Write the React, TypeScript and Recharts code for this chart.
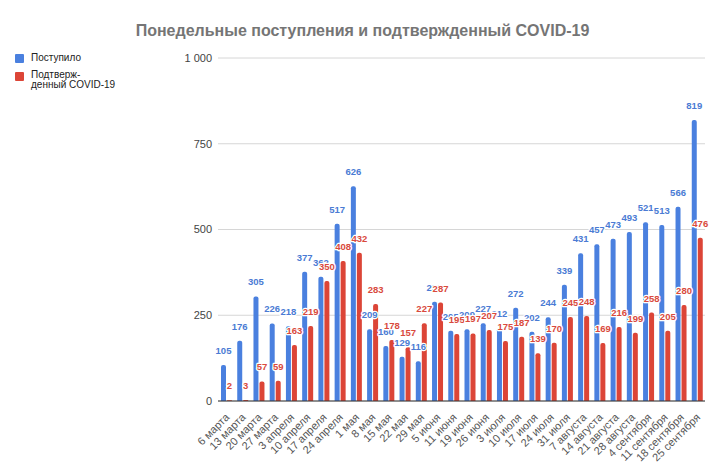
import { Bar, BarChart, CartesianGrid, LabelList, XAxis, YAxis } from "recharts";

const categories = [
  "6 марта", "13 марта", "20 марта", "27 марта", "3 апреля", "10 апреля",
  "17 апреля", "24 апреля", "1 мая", "8 мая", "15 мая", "22 мая", "29 мая",
  "5 июня", "11 июня", "19 июня", "26 июня", "3 июля", "10 июля", "17 июля",
  "24 июля", "31 июля", "7 августа", "14 августа", "21 августа", "28 августа",
  "4 сентября", "11 сентября", "18 сентября", "25 сентября",
];

const received = [
  105, 176, 305, 226, 218, 377, 362, 517, 626, 209, 160, 129, 116, 289, 205,
  209, 227, 212, 272, 202, 244, 339, 431, 457, 473, 493, 521, 513, 566, 819,
];

const confirmed = [
  2, 3, 57, 59, 163, 219, 350, 408, 432, 283, 178, 157, 227, 287, 195, 197,
  207, 175, 187, 139, 170, 245, 248, 169, 216, 199, 258, 205, 280, 476,
];

const yTicks = [0, 250, 500, 750, 1000];

const data = categories.map((name, i) => ({
  name,
  received: received[i],
  confirmed: confirmed[i],
}));

const BLUE = "#4a80df";
const RED = "#dc4537";
const FONT = "'Liberation Sans', Arial, sans-serif";

const fmt = (v: number) => String(v).replace(/\B(?=(\d{3})+(?!\d))/g, " ");

function makeLabel(color: string) {
  return (props: any) => {
    const { x, y, width, value } = props;
    return (
      <text
        x={x + width / 2}
        y={y - 11}
        textAnchor="middle"
        fontSize={9.5}
        fontWeight="bold"
        fontFamily={FONT}
        fill={color}
        stroke="#fff"
        strokeWidth={2.5}
        paintOrder="stroke"
        strokeLinejoin="round"
      >
        {value}
      </text>
    );
  };
}

function XTick(props: any) {
  const { x, y, payload } = props;
  return (
    <text
      x={x + 4}
      y={y + 9}
      transform={`rotate(-45, ${x + 4}, ${y + 9})`}
      textAnchor="end"
      fontSize={11}
      fontFamily={FONT}
      fill="#555"
    >
      {payload.value}
    </text>
  );
}

export default function App() {
  return (
    <div
      style={{
        position: "absolute",
        left: 0,
        top: 0,
        width: 719,
        height: 464,
        background: "#fff",
        fontFamily: FONT,
      }}
    >
      <div
        style={{
          position: "absolute",
          top: 22,
          left: 0,
          width: 725,
          textAlign: "center",
          fontSize: 16,
          fontWeight: "bold",
          color: "#757575",
        }}
      >
        Понедельные поступления и подтвержденный COVID-19
      </div>

      <div style={{ position: "absolute", left: 15, top: 52, fontSize: 10, color: "#222" }}>
        <div style={{ display: "flex", alignItems: "flex-start" }}>
          <span style={{ width: 9, height: 9, background: BLUE, borderRadius: 1, marginTop: 2 }} />
          <span style={{ marginLeft: 7, lineHeight: "12px" }}>Поступило</span>
        </div>
        <div style={{ display: "flex", alignItems: "flex-start", marginTop: 6 }}>
          <span style={{ width: 9, height: 9, background: RED, borderRadius: 1, marginTop: 2 }} />
          <span style={{ marginLeft: 7, lineHeight: "9.5px" }}>
            Подтверж-
            <br />
            денный COVID-19
          </span>
        </div>
      </div>

      <BarChart
        width={719}
        height={464}
        data={data}
        margin={{ top: 58, right: 14, bottom: 8, left: 0 }}
        barSize={5}
        barGap={1}
        style={{ position: "absolute", left: 0, top: 0 }}
      >
        <CartesianGrid vertical={false} stroke="#d6d6d6" />
        <YAxis
          width={218}
          domain={[0, 1000]}
          ticks={yTicks}
          axisLine={false}
          tickLine={false}
          tickMargin={0}
          tickFormatter={fmt}
          tick={{ fontSize: 11, fill: "#444", fontFamily: FONT }}
        />
        <XAxis
          dataKey="name"
          height={55}
          interval={0}
          tickLine={false}
          axisLine={{ stroke: "#333" }}
          tick={<XTick />}
        />
        <Bar dataKey="received" fill={BLUE} radius={[2, 2, 0, 0]} isAnimationActive={false}>
          <LabelList dataKey="received" content={makeLabel("#4a7bd4")} />
        </Bar>
        <Bar dataKey="confirmed" fill={RED} radius={[2, 2, 0, 0]} isAnimationActive={false}>
          <LabelList dataKey="confirmed" content={makeLabel("#d94a3d")} />
        </Bar>
      </BarChart>
    </div>
  );
}
